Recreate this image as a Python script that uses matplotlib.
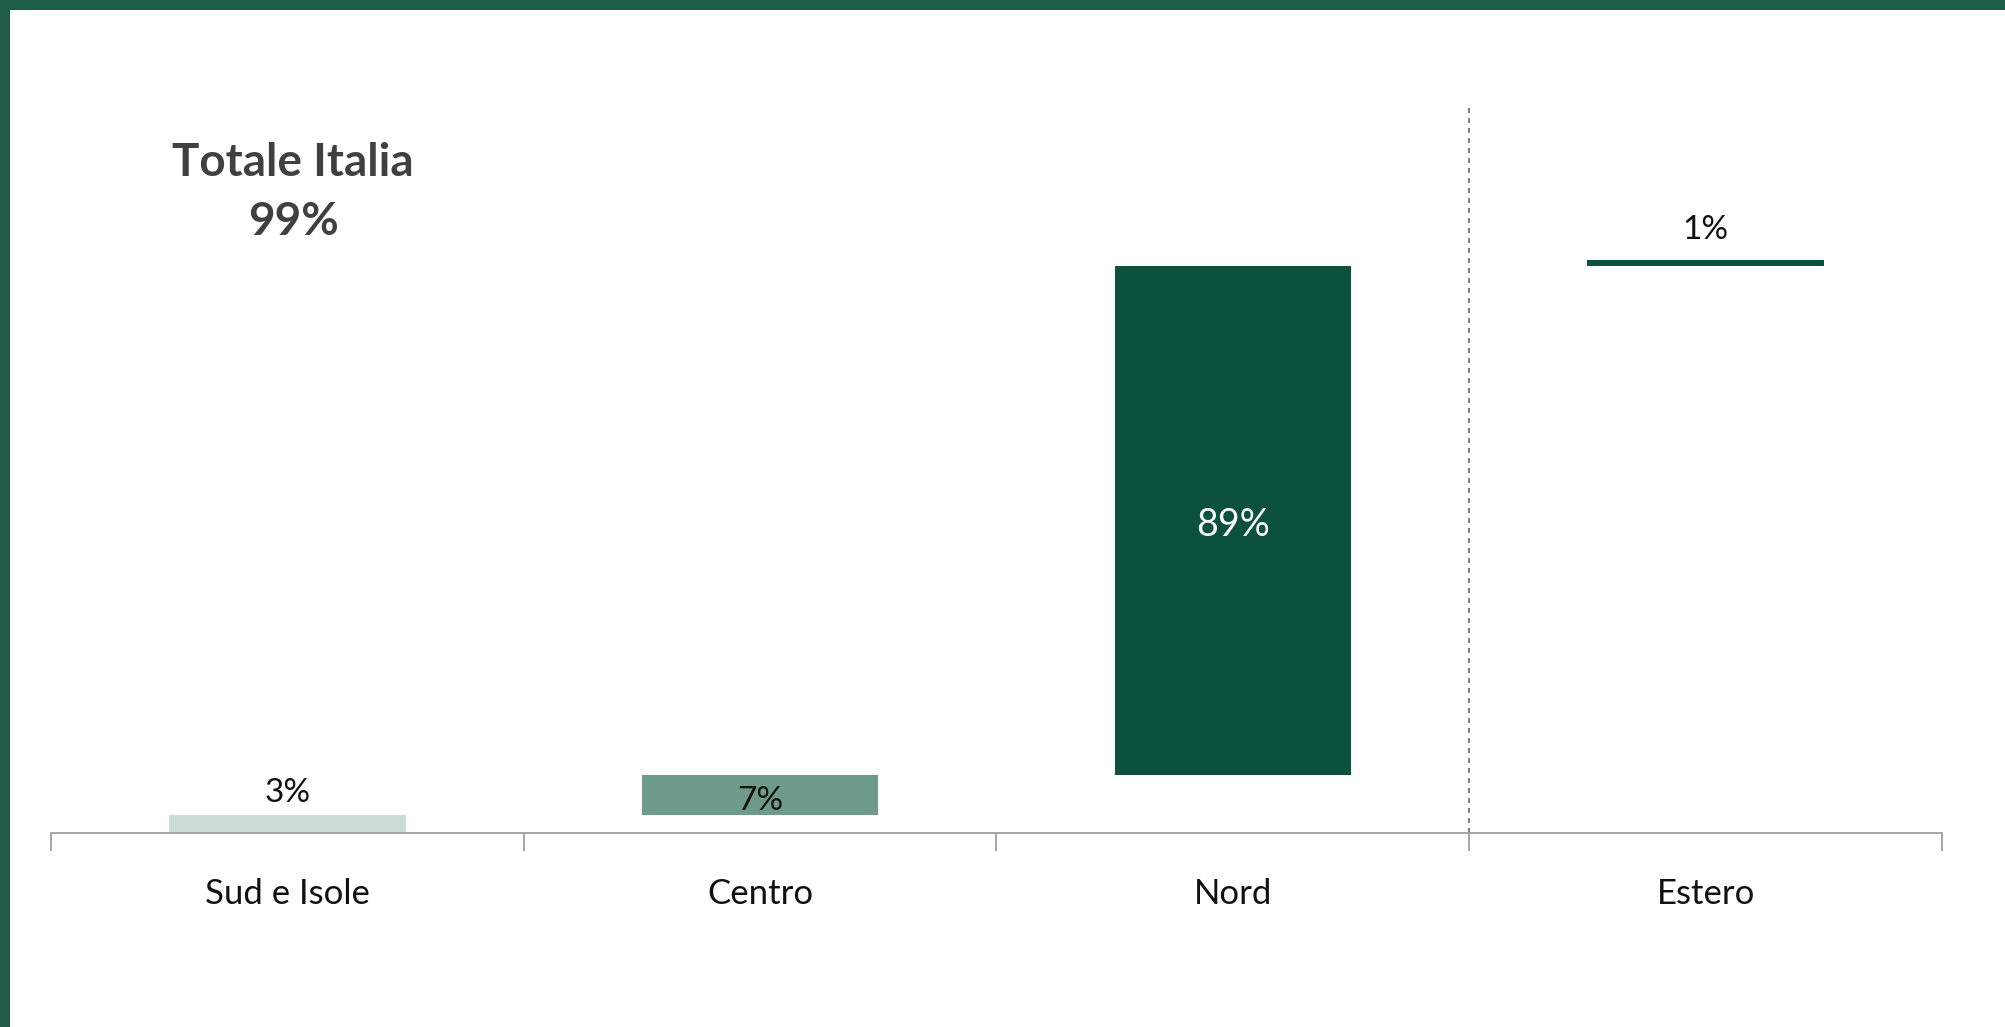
import matplotlib
matplotlib.use("Agg")
import matplotlib.pyplot as plt
import matplotlib.transforms as mtransforms

categories = ["Sud e Isole", "Centro", "Nord", "Estero"]
values = [3, 7, 89, 1]
labels = ["3%", "7%", "89%", "1%"]
colors = ["#cddcd6", "#6e9a8a", "#0b513d", "#0b513d"]
title_lines = ["Totale Italia", "99%"]

plt.rcParams['font.family'] = ['Lato', 'DejaVu Sans']

fig = plt.figure(figsize=(20.05, 10.27), dpi=100, facecolor="#1f5c47")
# white inner panel (frame effect)
bg = fig.add_axes([10/2005, 0, 1 - 10/2005, 1 - 10/1027], zorder=-10)
bg.set_facecolor("white")
bg.set_xticks([]); bg.set_yticks([])
for s in bg.spines.values():
    s.set_visible(False)

ax = fig.add_axes([51/2005, (1027-832.5)/1027, (1942-51)/2005, (832.5-106)/1027], zorder=5)
ax.set_facecolor("none")

bottoms = []
acc = 0
for v in values:
    bottoms.append(acc)
    acc += v

xs = list(range(len(categories)))
ax.bar(xs, values, bottom=bottoms, width=0.5, color=colors, zorder=2)

ax.set_xlim(-0.5, 3.5)
ax.set_ylim(0, 127)

for s in ["top", "right", "left"]:
    ax.spines[s].set_visible(False)
ax.spines["bottom"].set_color("#a0a0a0")
ax.spines["bottom"].set_linewidth(1.3)
ax.set_yticks([])
ax.set_xticks([-0.5, 0.5, 1.5, 2.5, 3.5])
ax.set_xticklabels([])
ax.tick_params(axis="x", length=13, width=1.3, color="#a0a0a0", direction="out")

# category labels
trans = mtransforms.blended_transform_factory(ax.transData, ax.transAxes)
for x, c in zip(xs, categories):
    ax.annotate(c, xy=(x, 0), xycoords=trans, xytext=(0, -61), textcoords="offset pixels",
                ha="center", va="center", fontsize=25, color="#111111")

# separator dashed line
ax.axvline(2.5, ymin=0, ymax=1, color="#666666", linestyle=(0, (3, 3)), linewidth=1.2)

# value labels
ax.annotate(labels[0], xy=(0, bottoms[0] + values[0]), xytext=(0, 22), textcoords="offset pixels",
            ha="center", va="center", fontsize=24, color="#111111")
ax.annotate(labels[1], xy=(1, bottoms[1] + values[1] / 2), xytext=(0, -6), textcoords="offset pixels",
            ha="center", va="center", fontsize=24, color="#111111")
ax.annotate(labels[2], xy=(2, bottoms[2] + values[2] / 2), xytext=(0, -4), textcoords="offset pixels",
            ha="center", va="center", fontsize=27, color="white")
ax.annotate(labels[3], xy=(3, bottoms[3] + values[3]), xytext=(0, 30), textcoords="offset pixels",
            ha="center", va="center", fontsize=24, color="#111111")

# title
fig.text(293/2005, 1 - 163/1027, title_lines[0], ha="center", va="center",
         fontsize=33, fontweight="bold", color="#404040")
fig.text(293/2005, 1 - 222/1027, title_lines[1], ha="center", va="center",
         fontsize=33, fontweight="bold", color="#404040")

fig.savefig("out.png", dpi=100, facecolor=fig.get_facecolor())
